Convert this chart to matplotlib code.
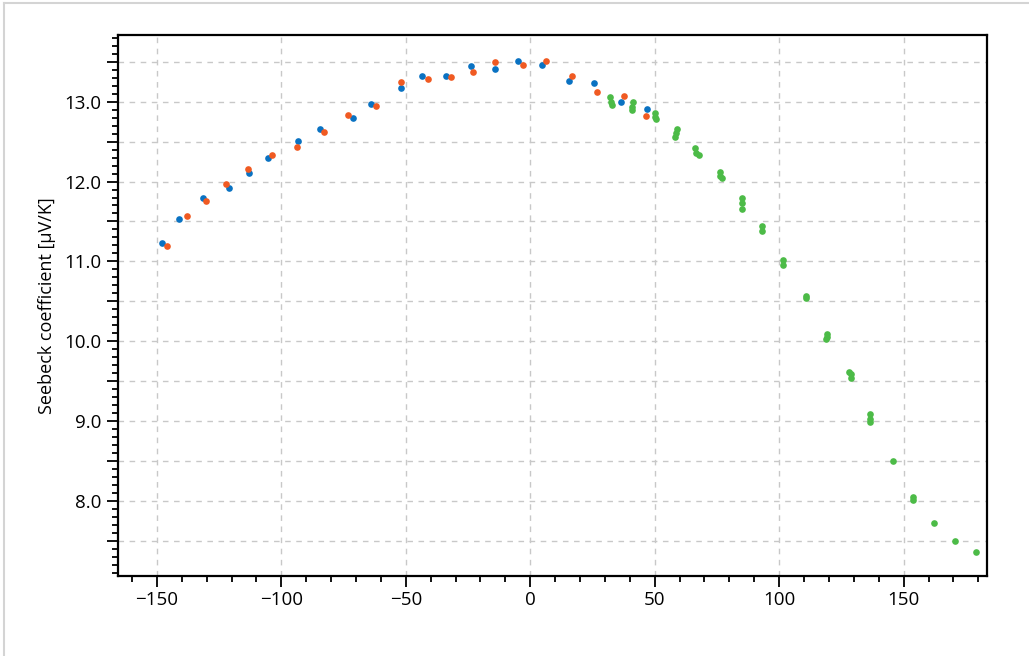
import matplotlib
matplotlib.use('Agg')
import matplotlib.pyplot as plt
from matplotlib.ticker import MultipleLocator, FuncFormatter
from matplotlib.lines import Line2D

plt.rcParams['font.family'] = ['Open Sans', 'DejaVu Sans']

# blue series
blue_x = [-148.0, -141.1, -131.3, -121.2, -112.8, -105.4, -93.3, -84.6, -71.4, -63.8,
          -51.8, -43.4, -34.0, -23.9, -14.2, -4.8, 4.7, 15.5, 25.6, 36.4, 46.8]
blue_y = [11.233, 11.530, 11.793, 11.922, 12.103, 12.298, 12.511, 12.654, 12.800, 12.967,
          13.172, 13.318, 13.326, 13.451, 13.410, 13.510, 13.460, 13.263, 13.234, 13.000, 12.905]

# orange series
orange_x = [-145.9, -137.9, -130.1, -122.4, -113.2, -103.7, -93.5, -83.0, -73.4, -61.8,
            -51.8, -41.2, -31.8, -22.8, -14.0, -3.0, 6.4, 16.7, 26.8, 37.5, 46.4]
orange_y = [11.195, 11.568, 11.756, 11.965, 12.160, 12.332, 12.429, 12.620, 12.837, 12.946,
            13.251, 13.281, 13.310, 13.376, 13.497, 13.464, 13.514, 13.326, 13.122, 13.068, 12.821]

# green series
green_x = [32.0, 32.3, 32.8, 41.4, 40.9, 40.9, 50.1, 50.1, 50.4, 59.1, 58.4, 58.3,
           66.2, 66.4, 67.7, 76.1, 76.3, 77.0, 84.9, 84.9, 84.9, 93.3, 93.3,
           101.7, 101.7, 110.9, 110.9, 119.2, 119.2, 118.9, 127.9, 128.8, 129.0,
           136.5, 136.6, 136.6, 145.6, 153.9, 153.9, 162.2, 170.7, 179.0]
green_y = [13.063, 12.992, 12.959, 13.000, 12.937, 12.896, 12.855, 12.812, 12.779,
           12.654, 12.604, 12.561, 12.424, 12.361, 12.328, 12.115, 12.073, 12.040,
           11.789, 11.734, 11.655, 11.442, 11.383, 11.016, 10.954, 10.569, 10.544,
           10.089, 10.051, 10.023, 9.617, 9.588, 9.534, 9.083, 9.024, 8.990, 8.501,
           8.053, 8.009, 7.722, 7.499, 7.357]

fig = plt.figure(figsize=(10.29, 6.56), dpi=100)
ax = fig.add_axes([0.1147, 0.1227, 0.8445, 0.8239])

ms = 4.8
ax.plot(blue_x, blue_y, 'o', color='#0a72c2', markersize=ms, markeredgewidth=0, zorder=3)
ax.plot(orange_x, orange_y, 'o', color='#f05a22', markersize=ms, markeredgewidth=0, zorder=3)
ax.plot(green_x, green_y, 'o', color='#4cbb47', markersize=ms, markeredgewidth=0, zorder=3)

ax.set_xlim(-165.6, 183.5)
ax.set_ylim(7.063, 13.836)

ax.xaxis.set_major_locator(MultipleLocator(50))
ax.xaxis.set_minor_locator(MultipleLocator(10))
ax.yaxis.set_major_locator(MultipleLocator(0.5))
ax.yaxis.set_minor_locator(MultipleLocator(0.1))
ax.yaxis.set_major_formatter(FuncFormatter(lambda v, p: '%.1f' % v if abs(v - round(v)) < 1e-6 else ''))

ax.grid(True, which='major', color='#c8c8c8', linestyle=(0, (4, 4)), linewidth=1.0, zorder=0)
ax.set_axisbelow(True)

ax.tick_params(which='both', direction='out', top=False, right=False, color='black', width=1.3, labelsize=13.5)
ax.tick_params(which='major', length=8)
ax.tick_params(which='minor', length=4)
ax.tick_params(axis='x', pad=3)
ax.tick_params(axis='y', pad=4)

for s in ax.spines.values():
    s.set_linewidth(1.6)
    s.set_color('black')

ax.set_ylabel('Seebeck coefficient [μV/K]', fontsize=13, labelpad=6)

# light frame on top and left edges of the image
fig.add_artist(Line2D([4/1029, 1], [1 - 3/656, 1 - 3/656], transform=fig.transFigure, color='#d4d4d4', linewidth=1.5))
fig.add_artist(Line2D([4/1029, 4/1029], [0, 1 - 3/656], transform=fig.transFigure, color='#d4d4d4', linewidth=1.5))

plt.savefig('out.png', dpi=100)
